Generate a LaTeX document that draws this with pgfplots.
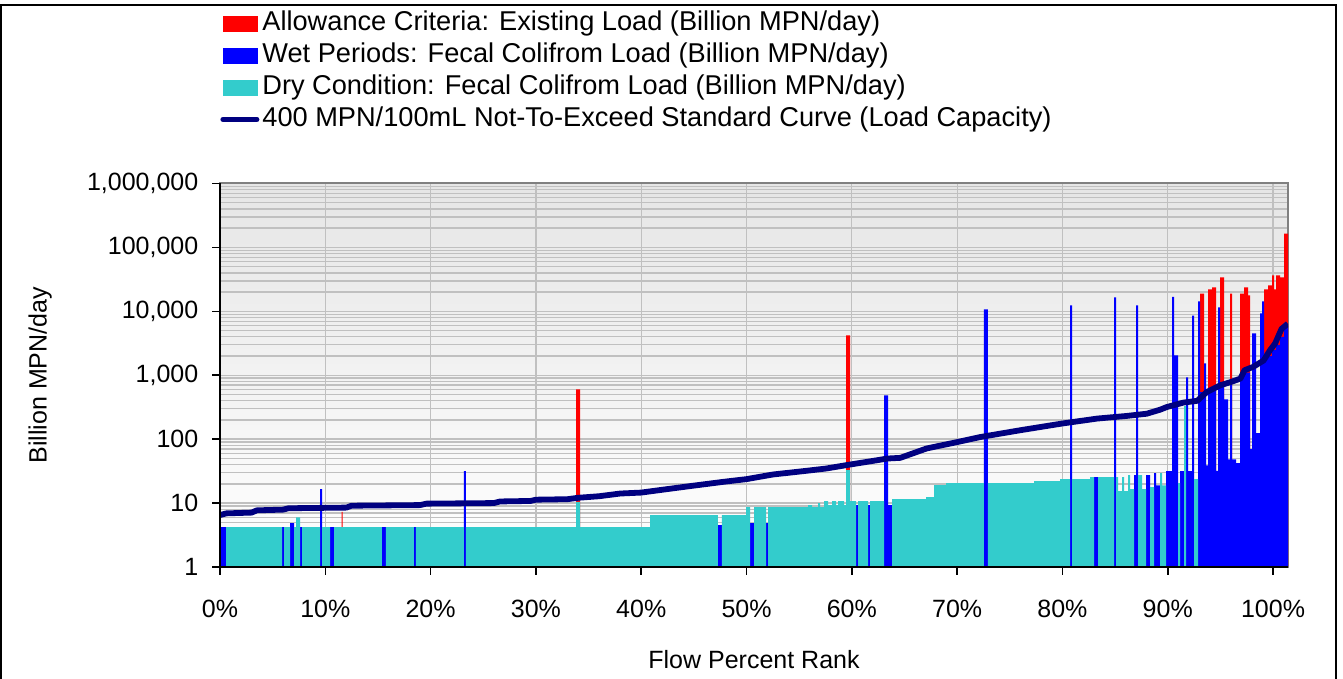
\documentclass[border=0pt]{standalone}
\usepackage{pgfplots}
\pgfplotsset{compat=1.18}
\usepackage{fontspec}
\setmainfont{Liberation Sans}

\definecolor{allowred}{HTML}{FF0000}
\definecolor{wetblue}{HTML}{0000FF}
\definecolor{dryteal}{HTML}{33CCCC}
\definecolor{capnavy}{HTML}{000080}
\definecolor{gridgray}{HTML}{C0C0C0}
\definecolor{framegray}{HTML}{808080}

\begin{document}
\fontsize{12.5}{15}\selectfont
\begin{tikzpicture}
\useasboundingbox (0,0) rectangle (671.5pt,339.5pt);
\draw[black, line width=1.2pt] (0.6pt,0) -- (0.6pt,337pt) -- (668pt,337pt) -- (668pt,0);
\begin{axis}[
    at={(110pt,56pt)}, anchor=south west,
    scale only axis, width=534pt, height=191.75pt,
    ymode=log, ymin=1, ymax=1000000,
    xmin=0, xmax=101.42,
    axis background/.style={top color=black!10, bottom color=white},
    axis line style={framegray, line width=1pt},
    grid=both,
    major grid style={gridgray, line width=0.6pt},
    minor grid style={gridgray, line width=0.7pt},
    xtick={0,10,20,30,40,50,60,70,80,90,100},
    xticklabels={0\%,10\%,20\%,30\%,40\%,50\%,60\%,70\%,80\%,90\%,100\%},
    minor x tick num=0,
    ytick={1,10,100,1000,10000,100000,1000000},
    yticklabels={1,10,100,{1,000},{10,000},{100,000},{1,000,000}},
    tick align=outside, xtick pos=left, ytick pos=left,
    major tick length=4pt, minor tick length=0pt,
    tick style={black, line width=0.8pt},
    xticklabel style={yshift=-8pt},
    yticklabel style={xshift=-2.5pt},
    xlabel={Flow Percent Rank},
    ylabel={Billion MPN/day},
    xlabel style={at={(axis description cs:0.5,-0.2425)}, anchor=center},
    ylabel style={at={(axis description cs:-0.1685,0.5)}, anchor=center, rotate=0},
    legend style={at={(axis description cs:0,1.4602)}, anchor=north west,
        draw=none, fill=none, inner sep=0pt, row sep=0pt,
        font=\fontsize{13.6}{16}\selectfont,
        nodes={inner sep=1.5pt, text height=10pt, text depth=3pt}},
    legend cell align=left,
    extra description/.code={\draw[black, line width=1pt] (0,1) -- (0,0) -- (1,0);},
]
% existing load exceeding the allowance
\addplot[ybar interval, fill=allowred, draw=none, forget plot] coordinates {
(0,1) (11.55,7.3) (11.65,1) (33.81,600) (34.19,1) (59.45,4200) (59.83,1)
(93.07,19000) (93.45,1) (93.83,22000) (94.21,23700) (94.59,1) (94.97,34000) (95.35,1)
(95.92,19000) (96.11,1) (96.87,19000) (97.25,23700) (97.63,17800) (97.82,1)
(99.15,22000) (99.53,25500) (99.91,36600) (100.09,22000) (100.28,36600) (100.66,34000)
(101.04,165000) (101.42,1)
};
% wet periods
\addplot[ybar interval, fill=wetblue, draw=none, forget plot] coordinates {
(0,4.2) (0.57,1) (5.89,4.2) (6.08,1) (6.65,4.87) (7.03,1) (7.60,4.2) (7.79,1)
(9.50,16.5) (9.69,1) (10.45,4.2) (10.83,1) (15.38,4.2) (15.76,1) (18.42,4.2) (18.61,1)
(23.17,31.6) (23.36,1) (47.29,4.5) (47.67,1) (50.33,4.87) (50.71,1) (51.85,4.87) (52.04,1)
(60.40,9.3) (60.59,1) (61.54,9.3) (61.73,1) (63.06,485) (63.44,9.3) (63.82,1)
(72.55,10700) (72.93,1) (80.72,12400) (80.91,1) (83.00,25.5) (83.38,1) (84.90,16600) (85.09,1)
(86.80,27.4) (86.99,12400) (87.18,1) (87.94,27.4) (88.32,1) (88.70,29.5) (88.89,19) (89.27,1)
(89.84,31.6) (90.41,16800) (90.60,2040) (90.98,1) (91.17,31.6) (91.55,1) (91.74,930)
(91.93,31.6) (92.31,8600) (92.50,1) (92.88,14300) (93.07,545) (93.45,1540) (93.64,39)
(93.83,580) (94.59,32) (94.78,11500) (94.97,750) (95.35,420) (95.73,48.5) (95.92,800)
(96.11,48.5) (96.49,42) (96.87,1100) (97.82,70) (98.01,4500) (98.39,124) (98.77,9300)
(98.96,14300) (99.15,1800) (99.53,2000) (99.91,2500) (100.28,3000) (100.66,4000)
(101.04,5800) (101.42,5800)
};
% dry condition
\addplot[ybar interval, fill=dryteal, draw=none, forget plot] coordinates {
(0,1) (0.57,4.2) (5.89,1) (6.08,4.2) (6.65,1) (7.03,4.2) (7.22,6.0) (7.60,1) (7.79,4.2)
(9.50,1) (9.69,4.2) (10.45,1) (10.83,4.2) (15.38,1) (15.76,4.2) (18.42,1) (18.61,4.2)
(23.17,1) (23.36,4.2) (33.81,10.4) (34.19,4.2) (40.84,6.5) (47.29,1) (47.67,6.5)
(49.95,8.66) (50.33,1) (50.71,8.66) (51.85,1) (52.04,8.66) (55.84,9.3) (56.22,8.66)
(56.79,10.0) (56.98,8.66) (57.36,10.7) (57.74,9.3) (58.12,10.7) (58.50,9.3) (58.69,10.7)
(59.26,9.3) (59.45,32.8) (59.83,10.7) (60.40,1) (60.59,10.7) (61.54,1) (61.73,10.7)
(63.06,1) (63.82,11.5) (67.05,12.4) (67.81,19.1) (68.95,20.5) (72.55,1) (72.93,20.5)
(77.30,22.0) (79.77,23.7) (80.72,1) (80.91,23.7) (82.62,25.5) (83.00,1) (83.38,25.5)
(84.90,1) (85.09,25.5) (85.28,15.4) (85.66,25.5) (85.85,15.4) (86.23,27.4) (86.42,16.5)
(86.80,1) (87.18,27.4) (87.56,16.5) (87.94,1) (88.32,17.8) (88.70,1) (89.27,29.5)
(89.46,19) (89.84,1) (90.98,20.5) (91.17,1) (91.55,330) (91.74,1) (92.50,23.7) (92.88,1)
(101.42,1)
};
% load capacity curve
\addplot[capnavy, line width=2.9pt, line join=round, forget plot] coordinates {
(0,6.5) (0.6,6.9) (3.0,7.1) (3.5,7.7) (6.0,7.9) (6.5,8.3) (12.0,8.5) (12.5,9.1)
(19.0,9.3) (19.6,9.8) (26.0,10.0) (26.6,10.6) (29.5,10.8) (30.0,11.3) (33.0,11.5)
(34.0,12.1) (36.0,12.8) (38.0,14.1) (40.0,14.6) (41.8,16.0) (44.6,18.4) (47.8,21.5)
(50.0,23.7) (52.5,28) (55.7,32) (57.6,34.8) (59.5,39.3) (62.0,45.7) (63.4,49.8)
(64.6,51) (67.1,71.5) (70.0,90) (72.2,108) (76.0,138) (80.0,176) (83.3,210) (86.0,230)
(88.0,250) (89.3,290) (89.9,318) (91.5,374) (92.8,398) (93.7,545) (95.0,698) (96.0,785)
(96.9,887) (97.3,1200) (98.1,1350) (99.1,1700) (99.7,2450) (100.2,3150) (100.8,5300)
(101.4,6400)
};
\addlegendimage{legend image code/.code={\fill[allowred] (0pt,-3.75pt) rectangle (17pt,3.75pt);}}
\addlegendimage{legend image code/.code={\fill[wetblue] (0pt,-3.75pt) rectangle (17pt,3.75pt);}}
\addlegendimage{legend image code/.code={\fill[dryteal] (0pt,-3.75pt) rectangle (17pt,3.75pt);}}
\addlegendimage{legend image code/.code={\draw[capnavy, line width=2.5pt, line cap=round] (0pt,0pt) -- (17pt,0pt);}}
\legend{Allowance Criteria: Existing Load (Billion MPN/day),
        Wet Periods: Fecal Colifrom Load (Billion MPN/day),
        Dry Condition: Fecal Colifrom Load (Billion MPN/day),
        400 MPN/100mL Not-To-Exceed Standard Curve (Load Capacity)}
\end{axis}
\end{tikzpicture}
\end{document}
